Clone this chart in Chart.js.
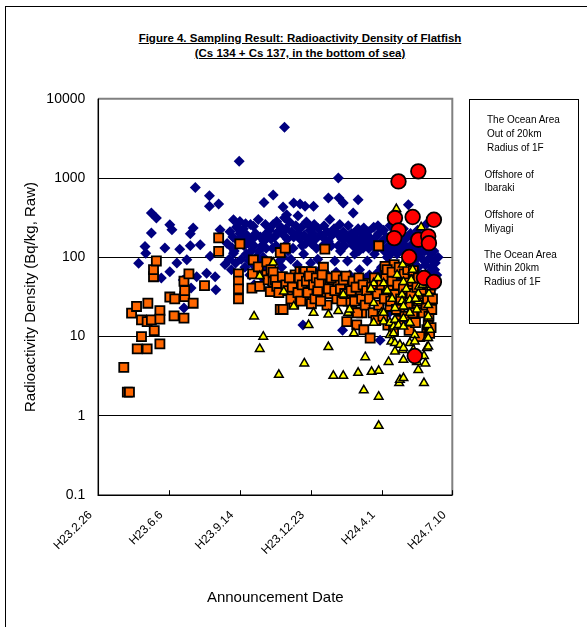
<!DOCTYPE html>
<html><head><meta charset="utf-8">
<script src="https://cdn.jsdelivr.net/npm/chart.js@4"></script>
<style>
html,body{margin:0;padding:0;background:#fff;overflow:hidden;}
#wrap{position:relative;width:587px;height:627px;font-family:'Liberation Sans',Arial,sans-serif;color:#000;overflow:hidden;}
#frame{position:absolute;left:5px;top:6px;width:700px;height:700px;border:1px solid #000;}
#title{position:absolute;left:0;top:30.6px;width:600px;text-align:center;font-weight:bold;font-size:11.5px;line-height:15.6px;text-decoration:underline;}
#legend{position:absolute;left:468.5px;top:98.5px;width:108px;height:223px;border:1px solid #000;}
.lg{position:absolute;font-size:10px;line-height:12px;white-space:nowrap;}
canvas{position:absolute;left:0;top:0;}
</style>
</head><body>
<div id="wrap">
<div id="frame"></div>
<div id="title">Figure 4. Sampling Result: Radioactivity Density of Flatfish<br>(Cs 134 + Cs 137, in the bottom of sea)</div>
<div id="legend"></div>
<canvas id="c" width="587" height="627"></canvas>
</div>
<script>
// ---- data ----
const xTickDays = [0, 100, 200, 300, 400, 500];
const xTickLabels = ['H23.2.26', 'H23.6.6', 'H23.9.14', 'H23.12.23', 'H24.4.1', 'H24.7.10'];
const yTickVals = [0.1, 1, 10, 100, 1000, 10000];
const yTickLabels = ['0.1', '1', '10', '100', '1000', '10000'];
const seriesNames = [
  ['The Ocean Area', 'Out of 20km', 'Radius of 1F'],
  ['Offshore of', 'Ibaraki'],
  ['Offshore of', 'Miyagi'],
  ['The Ocean Area', 'Within 20km', 'Radius of 1F']
];

// [days since H23.2.26, Bq/kg]
const outside20km = [
  [57,84],[66,137],[67,113],[75,362],[82,313],[75,203],[89,55],[94,131],[101,258],[104,223],[101,66],[111,85],
  [115,127],[120,52],[121,23],[125,93],[131,41],[130,140],[130,199],[134,234],[137,763],[139,57],[144,144],[153,63],
  [157,600],[157,440],[158,103],[165,57],[166,39],[170,471],[172,223],[179,81],[189,132],[191,298],[191,113],[199,1625],
  [200,284],[208,265],[211,167],[219,246],[234,493],[238,203],[247,612],[252,284],[254,212],[261,432],[263,315],[263,4390],
  [266,345],[276,485],[282,335],[285,470],[292,440],[299,246],[304,440],[325,561],[339,1003],[340,561],[346,485],[360,362],
  [361,198],[367,533],[339,193],[356,193],[375,234],[381,184],[395,251],[346,137],[438,462],[464,265],[289,14],[345,12],[398,9],
  [182,150],[185,95],[186,210],[190,180],[192,120],[195,240],[197,160],[198,60],[200,200],
  [203,170],[205,230],[207,75],[209,110],[210,190],[213,90],[215,260],[216,120],[219,80],[220,140],
  [222,200],[224,65],[226,300],[228,85],[229,180],[231,140],[232,55],[234,160],[236,260],[237,130],[239,190],[240,60],
  [242,220],[243,80],[244,170],[246,130],[247,260],[249,180],[251,140],[253,200],[254,55],[256,90],[258,240],[259,75],
  [261,100],[262,190],[264,140],[265,230],[267,170],[268,120],[270,280],[272,95],[273,210],[275,130],[276,180],[279,250],
  [281,80],[282,200],[285,170],[287,240],[288,140],[290,110],[291,190],[293,150],[294,280],[297,170],[299,220],[300,85],
  [301,150],[303,200],[305,260],[307,170],[308,130],[310,95],[311,230],[313,70],[315,190],[317,140],[319,250],[320,170],
  [322,130],[323,210],[325,160],[327,300],[329,140],[330,190],[333,230],[334,90],[336,65],[338,200],[339,140],
  [341,260],[342,120],[344,170],[346,210],[348,140],[350,180],[352,90],[353,250],[356,160],[358,200],[360,140],
  [362,110],[363,180],[365,140],[367,230],[368,120],[370,160],[372,200],[374,130],[376,170],[379,150],[380,90],
  [381,210],[382,130],[385,170],[388,140],[389,240],[390,110],[392,180],[394,130],[396,200],[398,150],[400,75],
  [401,160],[403,220],[404,120],[407,180],[408,100],[410,140],[412,250],[413,110],[415,170],[417,130],[419,200],
  [421,150],[422,110],[424,75],[425,190],[426,130],[429,160],[431,230],[432,120],[434,140],[436,100],[437,180],[439,125],
  [441,200],[442,110],[444,150],[446,90],[447,170],[448,130],[450,100],[451,220],[453,140],[455,115],[456,180],[458,95],[459,150],
  [461,120],[463,170],[465,130],[466,95],[468,140],[470,110],[472,90],[474,120],[476,85],[480,100],
  [245,45],[269,40],[277,50],[284,35],[289,60],[296,45],[302,60],[309,40],[316,55],[324,60],[331,45],[343,55],[349,40],
  [355,60],[361,30],[366,50],[369,70],[373,40],[378,55],[383,60],[386,35],[391,50],[395,65],[397,25],[402,45],[406,30],
  [409,60],[411,20],[414,70],[416,40],[420,55],[423,30],[427,50],[430,15],[433,65],[435,35],[440,45],[443,60],[445,25],
  [449,55],[452,75],[454,40],[457,60],[460,30],[462,80],[464,50],[467,65],[469,35],[471,75],[473,55],[475,70],[478,60],
  [188,70],[194,85],[202,95],[206,140],[212,150],[214,60],[218,170],[220,45],[223,100],[227,120],[233,100],[235,75],[238,90]
];

const ibaraki = [
  [36,4.1],[41,2.0],[44,2.0],[47,19.8],[54,24],[55,7.0],[61,16.3],[61,10.0],[69,15.5],[69,7.0],[70,26.4],[75,16.3],
  [79,11.9],[78,57],[78,70],[82,90],[87,21.3],[87,16.6],[87,8.1],[101,31.6],[107,18.3],[108,30],[121,17.1],[121,50],
  [122,32],[122,38],[128,62],[134,26.4],[150,44],[170,176],[170,119],
  [198,62],[198,50],[198,40],[198,30],[200,148],[217,41],[218,62],[219,93],[226,76],[228,43],[238,60],[238,88],
  [240,52],[243,37],[244,70],[247,49],[247,65],[250,52],[252,43],[255,36],[257,22],[257,115],[260,57],[264,131],
  [261,22],[276,47],[276,26],[278,60],[278,39],[280,50],[285,66],[290,63],[290,32],[292,66],[301,66],[301,41],[301,26],
  [318,75],[320,127],[320,35],[323,47],[323,25],[327,45],[327,35],[330,43],[332,52],[337,30],[339,47],[351,15.5],[353,28],
  [355,47],[358,21],[365,14.1],[369,46],[370,35],[372,20],[375,12.2],[381,47],[384,9.6],[398,52],[407,35],[412,24],[426,19.8],
  [440,39],[450,26],[455,47],[464,12.2],[466,14],[396,140],[405,77],[418,81],[429,63],[440,50],
  [265,45],[268,38],[270,55],[272,30],[274,42],[282,36],[284,55],[286,28],[288,45],[294,50],[296,36],[298,58],
  [304,45],[306,30],[308,55],[310,38],[312,48],[314,28],[316,60],[325,40],[329,55],[334,38],[336,58],[342,40],
  [344,28],[346,52],[348,35],[350,58],[357,38],[360,50],[362,28],[364,42],[366,20],[368,55],[372,30],[374,45],
  [377,25],[379,38],[383,30],[386,42],[388,20],[390,55],[392,16],[394,35],[396,25],[400,45],[402,18],[404,30],
  [406,58],[409,14],[410,40],[413,28],[415,50],[417,12],[419,34],[421,22],[423,45],[425,16],[427,30],[431,40],
  [433,18],[435,55],[437,25],[439,12],[442,35],[444,20],[446,60],[448,15],[450,42],[452,28],[454,10],[457,35],
  [459,20],[461,50],[463,25],[465,30],[467,18],[469,40],[471,22],[468,11],[470,13],[472,30],
  [408,70],[415,65],[425,75],[432,62],[437,70],[445,68],[452,55]
];

const miyagi = [
  [220,18],[228,58],[228,7.0],[233,10],[247,86],[255,3.3],[262,37],[276,24],[291,4.6],[297,14],[304,20],[325,19],
  [325,7.4],[332,3.2],[339,21],[346,34],[346,3.2],[353,20],[355,22],[361,11],[367,3.5],[375,2.1],[377,5.5],[386,3.6],
  [389,26.5],[389,15],[389,47],[396,3.7],[396,1.75],[396,0.75],[400,20],[403,20],[403,15.5],[403,47],[410,4.8],[412,10.5],
  [412,15],[414,8.7],[417,13.4],[417,11],[419,16.3],[419,8.3],[419,6.5],[419,23],[421,407],[424,14],[425,2.6],[426,7.9],
  [426,2.85],[429,34],[429,28],[430,81],[430,6.8],[431,49],[431,24],[431,17],[431,13.4],[431,7.2],[431,5.1],[431,3.0],
  [440,29],[440,20],[440,15],[440,8.3],[444,70],[445,6.8],[447,10.5],[447,8.7],[450,22],[450,4.8],[452,35],[452,28],
  [452,3.8],[453,43],[456,240],[460,2.6],[460,5.7],[462,4.6],[464,9.6],[464,7.2],[466,25],[466,18],[466,9.6],[466,7.5],
  [467,35],[469,12.2],[385,40],[395,55],[408,38],[415,30],[422,60],[435,40],[442,52],[448,30],[458,45],[462,60],[470,42],[465,14]
];

const within20km = [
  [424,908],[452,1216],[419,313],[444,323],[474,298],[424,219],[418,175],[452,167],[466,184],[467,151],
  [439,101],[460,55],[474,49],[447,5.7]
];

// ---- legend text (HTML) ----
const legendLayout = [[487, [120, 133.6, 147.6]], [484.5, [174.8, 187.6]], [484.5, [214.8, 228.8]], [484, [254.8, 268.4, 281.6]]];
const lg = document.getElementById('wrap');
seriesNames.forEach((lines, k) => {
  lines.forEach((t, j) => {
    const d = document.createElement('div');
    d.className = 'lg';
    d.textContent = t;
    d.style.left = legendLayout[k][0] + 'px';
    d.style.top = (legendLayout[k][1][j] - 6) + 'px';
    lg.appendChild(d);
  });
});

Chart.defaults.font.family = "'Liberation Sans', Arial, sans-serif";
Chart.defaults.color = '#000';

const toXY = arr => arr.map(p => ({x: p[0], y: p[1]}));

const framePlugin = {
  id: 'frame',
  beforeDatasetsDraw(chart) {
    const {ctx, chartArea: a, scales: {x}} = chart;
    ctx.save();
    ctx.strokeStyle = '#808080'; ctx.lineWidth = 2;
    ctx.beginPath(); ctx.moveTo(a.left, a.top); ctx.lineTo(a.right, a.top); ctx.lineTo(a.right, a.bottom); ctx.stroke();
    ctx.strokeStyle = '#000'; ctx.lineWidth = 1.5;
    ctx.beginPath(); ctx.moveTo(a.left, a.top); ctx.lineTo(a.left, a.bottom); ctx.lineTo(a.right, a.bottom); ctx.stroke();
    ctx.lineWidth = 1;
    x.ticks.forEach(t => {
      const px = Math.round(x.getPixelForValue(t.value)) + 0.5;
      ctx.beginPath(); ctx.moveTo(px, a.bottom); ctx.lineTo(px, a.bottom - 5); ctx.stroke();
    });
    ctx.restore();
  }
};

new Chart(document.getElementById('c'), {
  type: 'scatter',
  data: {
    datasets: [
      {label: seriesNames[0].join(' '), data: toXY(outside20km), pointStyle: 'rectRot', pointRadius: 5.5,
        backgroundColor: '#000080', borderColor: '#000080', borderWidth: 0, order: 4},
      {label: seriesNames[1].join(' '), data: toXY(ibaraki), pointStyle: 'rect', pointRadius: 6.4,
        backgroundColor: '#FF6600', borderColor: '#000000', borderWidth: 1.8, order: 3},
      {label: seriesNames[2].join(' '), data: toXY(miyagi), pointStyle: 'triangle', pointRadius: 5,
        backgroundColor: '#FFFF00', borderColor: '#000000', borderWidth: 1.5, order: 2},
      {label: seriesNames[3].join(' '), data: toXY(within20km), pointStyle: 'circle', pointRadius: 7.3,
        backgroundColor: '#FF0000', borderColor: '#000000', borderWidth: 1.8, order: 1}
    ]
  },
  options: {
    responsive: false,
    animation: false,
    devicePixelRatio: 1,
    events: [],
    layout: {padding: {left: 0, right: 134.7, top: 98.8, bottom: 0}},
    plugins: {legend: {display: false}, tooltip: {enabled: false}, title: {display: false}},
    scales: {
      x: {
        type: 'linear', min: 0, max: 500,
        afterBuildTicks: s => { s.ticks = xTickDays.map(v => ({value: v})); },
        afterFit: s => { s.height = 131.8; },
        grid: {display: false, drawTicks: false},
        border: {display: false},
        ticks: {autoSkip: false, maxRotation: 45, minRotation: 45, padding: 13, labelOffset: -8, color: '#000', font: {size: 12},
          callback: (v, i) => xTickLabels[i]},
        title: {display: true, text: 'Announcement Date', color: '#000', font: {size: 15}, padding: {top: 0, bottom: 20}}
      },
      y: {
        type: 'logarithmic', min: 0.1, max: 10000,
        afterBuildTicks: s => { s.ticks = yTickVals.map(v => ({value: v})); },
        afterFit: s => { s.width = 98.3; },
        grid: {color: '#000', lineWidth: 1, drawTicks: false},
        border: {display: false},
        ticks: {padding: 13, color: '#000', font: {size: 14}, callback: (v, i) => yTickLabels[i]},
        title: {display: true, text: 'Radioactivity Density (Bq/kg, Raw)', color: '#000', font: {size: 15}, padding: {top: 22, bottom: 0}}
      }
    }
  },
  plugins: [framePlugin]
});
</script>
</body></html>
